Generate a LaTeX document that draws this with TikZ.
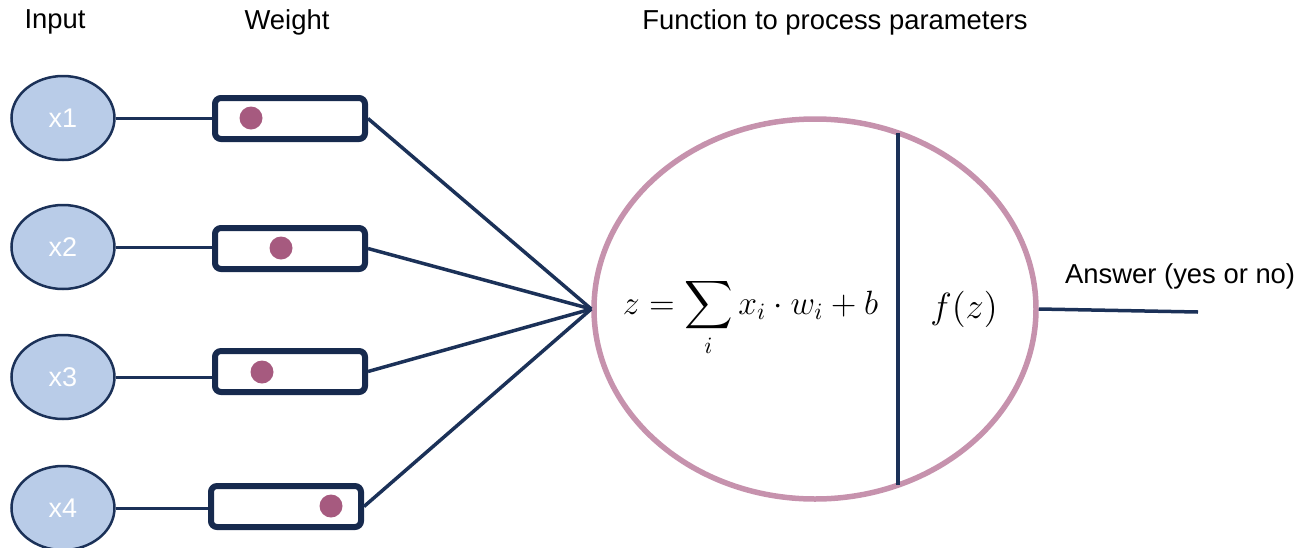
\documentclass[tikz,border=0pt]{standalone}
\usepackage{amsmath}
\usepackage{exscale}
\usepackage{fontspec}
\setmainfont{Liberation Sans}
\usetikzlibrary{shapes.geometric,calc}
\definecolor{navy}{HTML}{1B3158}
\definecolor{boxnavy}{HTML}{172A4E}
\definecolor{inblue}{HTML}{B9CCE8}
\definecolor{dotpink}{HTML}{A65A7F}
\definecolor{ringpink}{HTML}{C692AD}
\tikzset{
  inp/.style={ellipse,draw=navy,line width=2.5pt,fill=inblue,minimum width=103pt,minimum height=84pt,inner sep=0pt,text=white,font=\fontsize{27}{30}\selectfont},
  wbox/.style={draw=boxnavy,line width=6pt,rounded corners=6pt,minimum width=150pt,minimum height=41pt,inner sep=0pt},
  wdot/.style={circle,fill=dotpink,minimum size=23pt,inner sep=0pt},
  conn/.style={draw=navy,line width=3.5pt},
  thin/.style={draw=navy,line width=3pt},
  lbl/.style={font=\fontsize{27.4}{32}\selectfont,text=black,inner sep=0pt},
  neu/.style={ellipse,draw=ringpink,line width=5.5pt,minimum width=442pt,minimum height=380pt,inner sep=0pt},
  mathlbl/.style={inner sep=0pt,anchor=base,font=\Large,scale=2.34,transform shape},
}
\begin{document}
\begin{tikzpicture}[x=1pt,y=-1pt]
\useasboundingbox (0,0) rectangle (1294,547);
% headers
\node[lbl] (hin) at (55,22) {Input};
\node[lbl] (hw) at (287,22) {Weight};
\node[lbl] (hf) at (835,22) {Function to process parameters};
% inputs
\node[inp] (in1) at (63,118) {x1};
\node[inp] (in2) at (63,247) {x2};
\node[inp] (in3) at (63,377) {x3};
\node[inp] (in4) at (63,508) {x4};
% weight boxes
\node[wbox] (w1) at (290,118.5) {};
\node[wbox] (w2) at (290,248.5) {};
\node[wbox] (w3) at (290,371.5) {};
\node[wbox] (w4) at (286,506.5) {};
\node[wdot] (d1) at (251,118) {};
\node[wdot] (d2) at (281,248) {};
\node[wdot] (d3) at (262,372) {};
\node[wdot] (d4) at (331,506) {};
% neuron
\node[neu] (neuron) at (815,309) {};
\coordinate (cin) at (neuron.west);
\draw[conn] ($(neuron.center)+(83,-176)$) coordinate (vtop) -- ($(neuron.center)+(83,176)$) coordinate (vbot);
\node[mathlbl] (formula) at (750.5,314) {$\displaystyle z=\sum_i x_i\cdot w_i+b$};
\node[mathlbl,scale=1.08] (fz) at (964,318) {$f(z)$};
% connectors
\foreach \i in {1,2,3,4} {
  \draw[thin] (in\i.east) -- (in\i.east -| w\i.west);
  \draw[conn] (w\i.east) -- (cin);
}
\coordinate (ans) at (1198,312);
\draw[conn] (neuron.east) -- (ans);
\node[lbl,anchor=west] (anslbl) at (1065,276) {Answer (yes or no)};
\end{tikzpicture}
\end{document}
